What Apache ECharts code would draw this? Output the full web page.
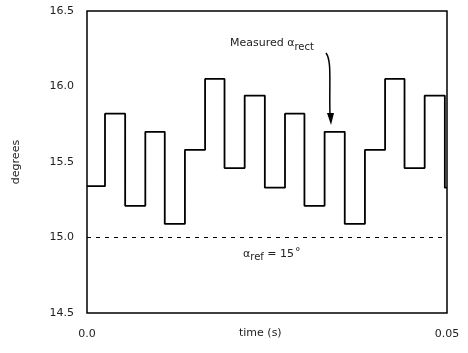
<!DOCTYPE html>
<html>
<head>
<meta charset="utf-8">
<script src="https://cdn.jsdelivr.net/npm/echarts@6/dist/echarts.min.js"></script>
<style>
  html, body { margin: 0; padding: 0; background: #fff; }
  #chart { width: 468px; height: 353px; }
</style>
</head>
<body>
<div id="chart"></div>
<script>
// step edge times (s) and the level held from each edge on
var stepTimes = [0, 0.0025, 0.0053, 0.0081, 0.0108, 0.0136, 0.0164, 0.0191, 0.0219, 0.0247,
                 0.0275, 0.0302, 0.0330, 0.0358, 0.0386, 0.0414, 0.0441, 0.0469, 0.0497, 0.05];
var stepValues = [15.34, 15.82, 15.21, 15.70, 15.09, 15.58, 16.05, 15.46, 15.94, 15.33,
                  15.82, 15.21, 15.70, 15.09, 15.58, 16.05, 15.46, 15.94, 15.33, 15.33];
var refLine = [[0, 15.0], [0.05, 15.0]];
var xTickLabels = ['0.0', '0.05'];
var yTicks = [14.5, 16.5, 0.5]; // min, max, interval

(function() {
  var font = 'DejaVu Sans, sans-serif';
  var ink = '#222';
  var chart = echarts.init(document.getElementById('chart'), null, { renderer: 'canvas' });

  var measured = stepTimes.map(function(t, i) { return [t, stepValues[i]]; });

  chart.setOption({
    animation: false,
    grid: { left: 87, right: 21, top: 11, bottom: 40, show: true, borderColor: '#000', borderWidth: 1.5 },
    xAxis: {
      type: 'value',
      min: 0, max: 0.05, interval: 0.05,
      axisLine: { show: false },
      axisTick: { show: false },
      splitLine: { show: false },
      axisLabel: {
        color: ink, fontFamily: font, fontSize: 11, margin: 16,
        formatter: function(v) { return v === 0 ? xTickLabels[0] : xTickLabels[1]; }
      }
    },
    yAxis: {
      type: 'value',
      min: yTicks[0], max: yTicks[1], interval: yTicks[2],
      name: 'degrees',
      nameLocation: 'middle',
      nameGap: 65,
      nameTextStyle: { color: ink, fontFamily: font, fontSize: 11 },
      axisLine: { show: false },
      axisTick: { show: false },
      splitLine: { show: false },
      axisLabel: {
        color: ink, fontFamily: font, fontSize: 11, margin: 13,
        formatter: function(v) { return v.toFixed(1); }
      }
    },
    series: [
      {
        type: 'line',
        step: 'end',
        data: measured,
        symbol: 'none',
        lineStyle: { color: '#000', width: 1.8 }
      },
      {
        type: 'line',
        data: refLine,
        symbol: 'none',
        lineStyle: { color: '#000', width: 1, type: [4, 5] }
      }
    ],
    graphic: [
      {
        type: 'text', left: 230, top: 38,
        style: {
          text: '{m|Measured α}{s|rect}',
          rich: {
            m: { fontFamily: font, fontSize: 11, fill: ink },
            s: { fontFamily: font, fontSize: 10, fill: ink, padding: [7, 0, 0, 0] }
          }
        }
      },
      {
        type: 'bezierCurve',
        shape: { x1: 326, y1: 53, cpx1: 332, cpy1: 61, cpx2: 329, cpy2: 82, x2: 330, y2: 116 },
        style: { stroke: '#000', lineWidth: 1.5, fill: null }
      },
      {
        type: 'polygon',
        shape: { points: [[327, 113], [334, 113], [331, 125]] },
        style: { fill: '#000' }
      },
      {
        type: 'text', left: 243, top: 247,
        style: {
          text: '{m|α}{s|ref}{m| = 15}{d|°}',
          rich: {
            m: { fontFamily: font, fontSize: 11, fill: ink },
            s: { fontFamily: font, fontSize: 10, fill: ink, padding: [7, 0, 0, 0] },
            d: { fontFamily: font, fontSize: 11, fill: ink, padding: [0, 0, 3, 1] }
          }
        }
      },
      {
        type: 'text', left: 239, top: 328,
        style: { text: 'time (s)', fontFamily: font, fontSize: 11, fill: ink }
      }
    ]
  });
})();
</script>
</body>
</html>
